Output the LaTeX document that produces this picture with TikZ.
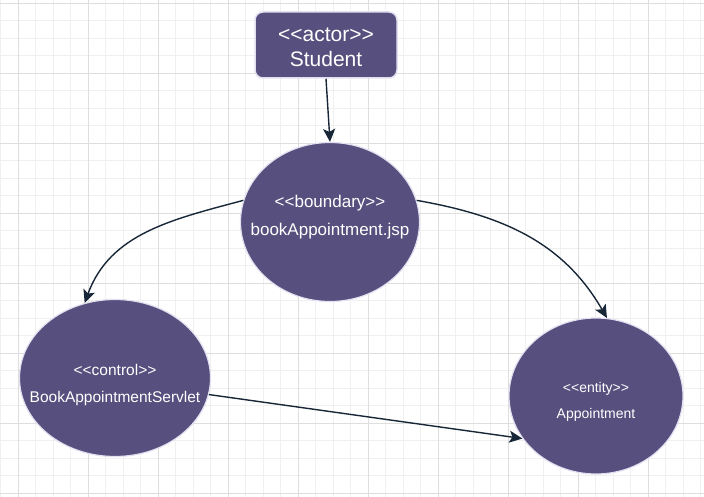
\documentclass[tikz,border=0pt]{standalone}
\usepackage{fontspec}
\setmainfont{Liberation Sans}[Ligatures=TeXOff]
\usetikzlibrary{arrows.meta, shapes.geometric}
\definecolor{umlfill}{RGB}{87,79,125}
\definecolor{umledge}{RGB}{226,223,240}
\definecolor{umlarrow}{RGB}{24,39,56}
\definecolor{gridminor}{RGB}{240,240,240}
\definecolor{gridmajor}{RGB}{222,222,222}
% two centred lines, shifted up by #1, taking no room in the node
\newcommand{\stereo}[3]{\smash{\raisebox{#1}{\makebox[0pt]{\begin{tabular}{@{}c@{}}#2\\#3\end{tabular}}}}}
\tikzset{
  actorbox/.style = {draw=umledge, fill=umlfill, text=white, line width=1.5pt,
    rounded corners=8pt, minimum width=142pt, minimum height=66pt, inner sep=0pt},
  umloval/.style = {ellipse, draw=umledge, fill=umlfill, text=white,
    line width=1.2pt, inner sep=0pt},
  flow/.style = {draw=umlarrow, line width=1.4pt, -{Stealth[length=13pt, width=12pt, inset=3pt]}}
}

\begin{document}
\begin{tikzpicture}[x=1pt, y=-1pt]
\useasboundingbox (0,0) rectangle (704,497);
%% background grid
  \fill[white] (0,0) rectangle (704,497);
  \foreach \x in {0.5,18,...,704} \draw[gridminor, line width=0.8pt] (\x,0) -- (\x,497);
  \foreach \y in {3,20.5,...,497} \draw[gridminor, line width=0.8pt] (0,\y) -- (704,\y);
  \foreach \x in {18,88,...,704} \draw[gridmajor, line width=0.8pt] (\x,0) -- (\x,497);
  \foreach \y in {3,73,...,497} \draw[gridmajor, line width=0.8pt] (0,\y) -- (704,\y);
%% classes
  \node[actorbox, font={\fontsize{21}{25}\selectfont}] (student) at (326, 45)
    {\stereo{-9.5pt}{<<actor>>}{Student}};
  \node[umloval, minimum width=179pt, minimum height=159pt, font={\fontsize{17}{28}\selectfont}]
    (bndry) at (330, 222) {\stereo{2pt}{<<boundary>>}{bookAppointment.jsp}};
  \node[umloval, minimum width=191pt, minimum height=157pt, font={\fontsize{15.5}{27}\selectfont}]
    (ctrl) at (115, 378) {\stereo{-9.5pt}{<<control>>}{BookAppointmentServlet}};
  \node[umloval, minimum width=174pt, minimum height=156pt, font={\fontsize{14}{26}\selectfont}]
    (entty) at (596, 396) {\stereo{-7.5pt}{<<entity>>}{Appointment}};
%% connectors
  \draw[flow] (student.south) -- (bndry.north);
  \draw[flow] (bndry.166) to[out=195, in=70] (ctrl.112);
  \draw[flow] (bndry.14) to[out=-10, in=120] (entty.82);
  \draw[flow] (ctrl.-10) -- (entty.210);
\end{tikzpicture}
\end{document}
